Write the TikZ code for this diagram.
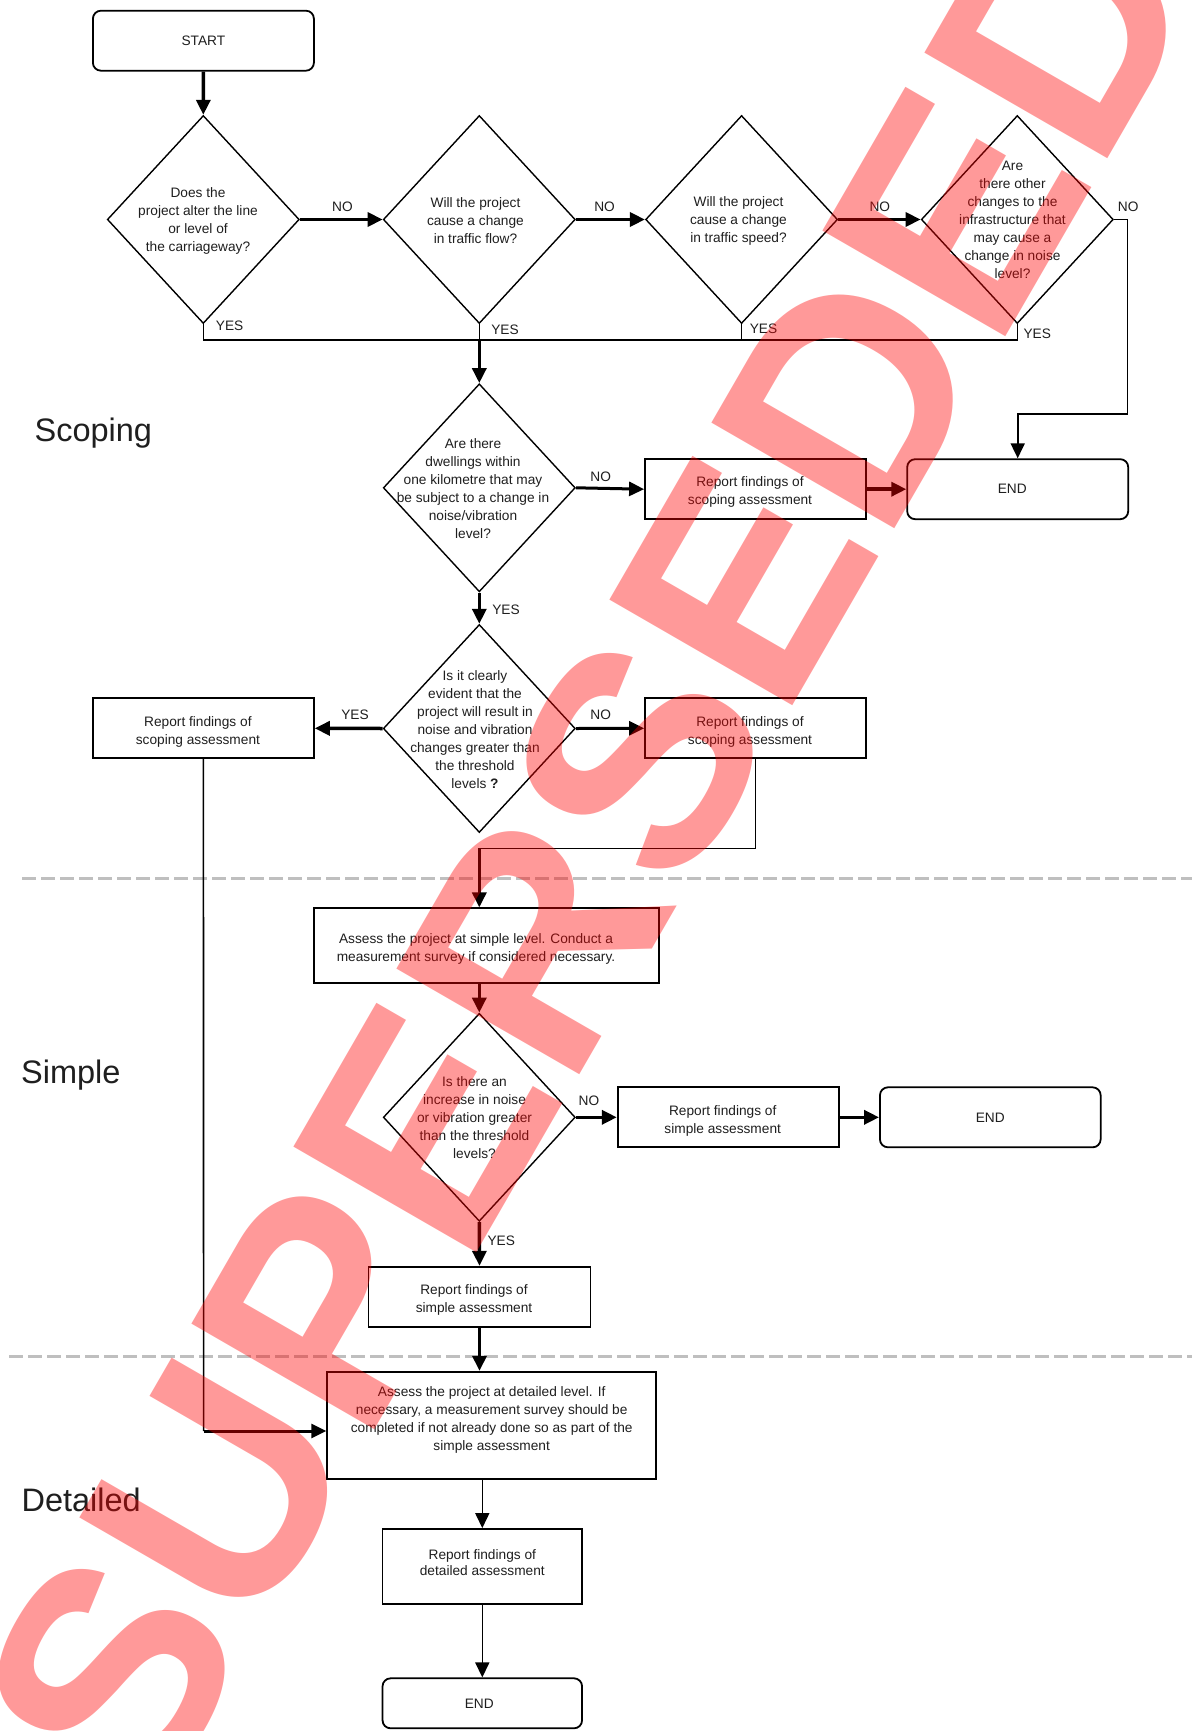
\documentclass[tikz,border=0pt]{standalone}
\usepackage{fontspec}
\setmainfont{Liberation Sans}
\usetikzlibrary{shapes.geometric,arrows.meta}
\newcommand{\mytab}[1]{\begin{tabular}{@{}c@{}}#1\end{tabular}}
\newcommand{\shifttab}[2]{\raisebox{#1}[0pt][0pt]{\mytab{#2}}}
\newcommand{\reptab}[1]{\shifttab{-6.7pt}{#1}\hspace*{11pt}}
\tikzset{
  txt/.style={font=\fontsize{13.7}{18}\selectfont, text=black!88, align=center, inner sep=0pt},
  box/.style={draw, line width=1.8pt, rectangle, inner sep=0pt, minimum width=221pt, minimum height=60pt, txt},
  rbox/.style={box, rounded corners=8pt},
  dia/.style={draw, diamond, line width=1.4pt, minimum width=192pt, minimum height=208pt, inner sep=0pt},
  thk/.style={line width=3.5pt, -{Triangle[length=15pt,width=14pt]}},
  thn/.style={line width=1.6pt},
  tharr/.style={line width=1.6pt, -{Triangle[length=15pt,width=14pt]}},
  lbl/.style={font=\fontsize{13.7}{16}\selectfont, text=black!88, inner sep=0pt},
  sec/.style={font=\fontsize{32.5}{36}\selectfont, text=black!88, inner sep=0pt, anchor=base west},
  sepline/.style={draw=black!25, line width=3.2pt, dash pattern=on 14pt off 5pt},
}
\begin{document}
\begin{tikzpicture}[x=1pt,y=-1pt]
\fill[white] (0,0) rectangle (1192,1731);
\useasboundingbox (0,0) rectangle (1192,1731);

% separators
\coordinate (s1a) at (22,878.3); \coordinate (s1b) at (1192,878.3);
\coordinate (s2a) at (9,1356.7); \coordinate (s2b) at (1192,1356.7);
\draw[sepline] (s1a) -- (s1b);
\draw[sepline] (s2a) -- (s2b);

% section labels
\node[sec] (scoping) at (34.4,441.7) {Scoping};
\node[sec] (simplelab) at (21,1083.3) {Simple};
\node[sec] (detailedlab) at (21.4,1511) {Detailed};

% top row
\node[rbox] (start) at (203.4,40.7) {START};
\node[dia] (d1) at (203.3,219.5) {};
\node[txt, font=\fontsize{13.7}{18.3}\selectfont] (d1t) at (198,221) {Does the\\project alter the line\\or level of\\the carriageway?};
\node[dia] (d2) at (479.3,219.5) {};
\node[txt] (d2t) at (475.5,220.5) {Will the project\\cause a change\\in traffic flow?};
\node[dia] (d3) at (741.6,219.5) {};
\node[txt] (d3t) at (738.5,220.5) {Will the project\\cause a change\\in traffic speed?};
\node[dia] (d4) at (1017.3,219.5) {};
\node[txt] (d4t) at (1012.5,220) {Are\\there other\\changes to the\\infrastructure that\\may cause a\\change in noise\\level?};

% scoping middle
\node[dia] (d5) at (479.3,487.8) {};
\node[txt] (d5t) at (473,488.7) {Are there\\dwellings within\\one kilometre that may\\be subject to a change in\\noise/vibration\\level?};
\node[box] (rep1) at (755.5,489.2) {\reptab{Report findings of\\scoping assessment}};
\node[rbox] (end1) at (1017.7,489.2) {END\hspace*{11pt}};

\node[dia] (d6) at (479.3,728.5) {};
\node[txt] (d6t) at (475,729.5) {Is it clearly\\evident that the\\project will result in\\noise and vibration\\changes greater than\\the threshold\\levels \textbf{?}};
\node[box] (rep2) at (755.5,728.3) {\reptab{Report findings of\\scoping assessment}};
\node[box] (rep3) at (203.4,728.3) {\reptab{Report findings of\\scoping assessment}};

% simple
\node[box, minimum width=345.3pt, minimum height=74.4pt] (simple) at (486.5,945.5)
  {\shifttab{-6.8pt}{Assess the project at simple level. Conduct a\\measurement survey if considered necessary.}\hspace*{21pt}};
\node[dia] (d7) at (479.3,1117.3) {};
\node[txt] (d7t) at (474.5,1117.8) {Is there an\\increase in noise\\or vibration greater\\than the threshold\\levels?};
\node[box] (rep5) at (728.2,1117.3) {\reptab{Report findings of\\simple assessment}};
\node[rbox, minimum width=220.7pt] (end2) at (990.3,1117.3) {END};
\node[box, minimum width=222pt] (rep4) at (479.5,1296.7) {\reptab{Report findings of\\simple assessment}};

% detailed
\node[box, minimum width=329pt, minimum height=107.6pt] (detailed) at (491.7,1425.5)
  {\shifttab{2.1pt}{Assess the project at detailed level. If\\necessary, a measurement survey should be\\completed if not already done so as part of the\\simple assessment}};
\node[box, minimum width=199.5pt, minimum height=75pt] (rep6) at (482.3,1566.5)
  {\fontsize{13.7}{16}\selectfont\shifttab{-1.4pt}{Report findings of\\detailed assessment}};
\node[rbox, minimum width=199.5pt, minimum height=50pt] (end3) at (482.3,1703.3) {END\hspace*{6pt}};

% connectors top row
\draw[thk] (start.south) -- (d1.north);
\draw[thk] (d1.east) -- (d2.west);
\draw[thk] (d2.east) -- (d3.west);
\draw[thk] (d3.east) -- (d4.west);
\coordinate (jy) at (479.3,340);
\draw[thn] (d1.south) -- (d1.south |- jy) -- (d4.south |- jy) -- (d4.south);
\draw[thn] (d2.south) -- (jy);
\draw[thn] (d3.south) -- (d3.south |- jy);
\draw[thk] (jy) -- (d5.north);
\coordinate (c4a) at (1127.5,219.5);
\coordinate (c4b) at (1127.5,414);
\draw[tharr, line width=1.8pt] (d4.east) -- (c4a) -- (c4b) -- (c4b -| end1.north) -- (end1.north);

% scoping middle
\draw[thk, line width=3pt] (d5.east) -- (rep1.west);
\draw[thk] (rep1.east) -- (end1.west);
\draw[thk] (d5.south) -- (d6.north);
\draw[thk] (d6.west) -- (rep3.east);
\draw[thk, line width=3pt] (d6.east) -- (rep2.west);
\coordinate (c2a) at (755.5,848.3);
\coordinate (c2b) at (479.3,848.3);
\draw[thn] (rep2.south) -- (c2a) -- (c2b);
\draw[thk] (c2b) -- (c2b |- simple.north);
\coordinate (c3) at (203.6,1431);
\draw[thn] (rep3.south) -- (c3);
\draw[thk, line width=3pt] (c3) -- (c3 -| detailed.west);

% simple
\draw[thk] (simple.south -| d7.north) -- (d7.north);
\draw[thk] (d7.east) -- (rep5.west);
\draw[thk] (rep5.east) -- (end2.west);
\draw[thk] (d7.south) -- (rep4.north);
\draw[thk] (rep4.south) -- (rep4.south |- detailed.north);

% detailed
\draw[tharr] (rep6.north |- detailed.south) -- (rep6.north);
\draw[tharr] (rep6.south) -- (end3.north);

% labels
\node[lbl] (no1) at (342.5,207) {NO};
\node[lbl] (no2) at (604.6,207) {NO};
\node[lbl] (no3) at (879.8,207) {NO};
\node[lbl] (no4) at (1128.2,207) {NO};
\node[lbl] (yes1) at (229.6,326) {YES};
\node[lbl] (yes2) at (505,330) {YES};
\node[lbl] (yes3) at (763.5,329) {YES};
\node[lbl] (yes4) at (1037.2,334) {YES};
\node[lbl] (no5) at (600.7,476.7) {NO};
\node[lbl] (yes5) at (506,610) {YES};
\node[lbl] (yes6) at (355,715) {YES};
\node[lbl] (no6) at (600.7,715) {NO};
\node[lbl] (no7) at (589,1100.7) {NO};
\node[lbl] (yes7) at (501.3,1241) {YES};

% watermark
\begin{scope}
\clip (0,0) rectangle (1192,1731);
\node[anchor=base west, rotate=60, inner sep=0pt, text=red, text opacity=0.4,
      font=\fontsize{307}{307}\selectfont\bfseries] (wm) at (151,1817) {SUPERSEDED};
\end{scope}
\end{tikzpicture}
\end{document}
